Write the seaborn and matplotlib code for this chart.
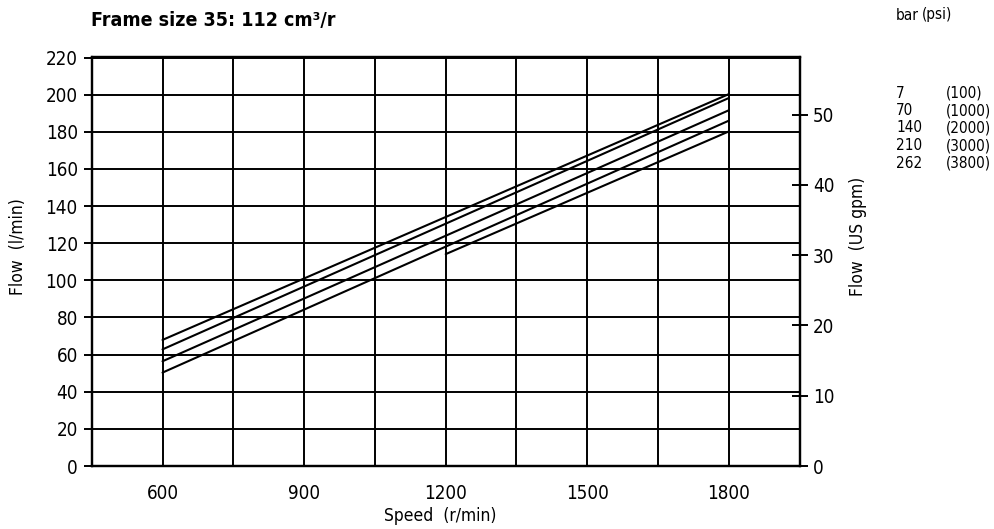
import matplotlib
matplotlib.use("Agg")
import matplotlib.pyplot as plt
import seaborn as sns
import pandas as pd

# ---- data ----
pressure_bar = ["7", "70", "140", "210", "262"]
pressure_psi = ["(100)", "(1000)", "(2000)", "(3000)", "(3800)"]
speed_7 = [600, 1800]
flow_7 = [67.9, 200.3]
speed_70 = [600, 1800]
flow_70 = [62.8, 198.2]
speed_140 = [600, 1800]
flow_140 = [56.4, 191.6]
speed_210 = [600, 1800]
flow_210 = [50.3, 186.0]
speed_262 = [1200, 1800]
flow_262 = [114.1, 180.2]
x_ticks = [600, 900, 1200, 1500, 1800]
y_ticks = [0, 20, 40, 60, 80, 100, 120, 140, 160, 180, 200, 220]
gpm_ticks = [0, 10, 20, 30, 40, 50]
LPM_PER_GPM = 3.785

speeds = [speed_7, speed_70, speed_140, speed_210, speed_262]
flows = [flow_7, flow_70, flow_140, flow_210, flow_262]
rows = []
for p, s, f in zip(pressure_bar, speeds, flows):
    for si, fi in zip(s, f):
        rows.append({"pressure": p, "speed": si, "flow": fi})
df = pd.DataFrame(rows)

sns.set_theme(style="white")
plt.rcParams["font.family"] = ["DejaVu Sans"]
plt.rcParams["font.stretch"] = "condensed"
plt.rcParams["text.color"] = "black"
plt.rcParams["axes.linewidth"] = 1.6

fig = plt.figure(figsize=(9.94, 5.29), dpi=100)
ax = fig.add_axes([91.7 / 994, 63 / 529, 708 / 994, 408.5 / 529])

sns.lineplot(data=df, x="speed", y="flow", hue="pressure", units="pressure",
             estimator=None, palette=["black"] * 5, legend=False,
             linewidth=1.5, ax=ax)

ax.set_xlim(450, 1950)
ax.set_ylim(0, 220)
xt = list(range(450, 1951, 150))
ax.set_xticks(xt)
ax.set_xticklabels([str(v) if v in x_ticks else "" for v in xt])
ax.set_yticks(y_ticks)
ax.set_yticklabels([str(v) for v in y_ticks])
ax.grid(True, color="black", linewidth=1.4)
for s in ax.spines.values():
    s.set_visible(True)
    s.set_color("black")
ax.tick_params(axis="both", direction="out", length=6, width=1.4,
               colors="black", labelsize=13.5, pad=4)
ax.tick_params(axis="x", pad=7)
ax.set_xlabel("")
ax.set_ylabel("")

ax2 = ax.twinx()
ax2.set_ylim(0, 220 / LPM_PER_GPM)
ax2.set_yticks(gpm_ticks)
ax2.set_yticklabels([str(v) for v in gpm_ticks])
ax2.tick_params(axis="y", direction="inout", length=11, width=1.4,
                colors="black", labelsize=13.5, pad=4)
ax2.grid(False)
for s in ax2.spines.values():
    s.set_color("black")

fig.text(18 / 994, 1 - 247 / 529, "Flow  (l/min)", rotation=90,
         ha="center", va="center", fontsize=12.5)
fig.text(858 / 994, 1 - 236 / 529, "Flow  (US gpm)", rotation=90,
         ha="center", va="center", fontsize=12.5)
fig.text(440 / 994, 1 - 516 / 529, "Speed  (r/min)",
         ha="center", va="center", fontsize=12.5)
fig.text(91 / 994, 1 - 20 / 529, "Frame size 35: 112 cm\u00b3/r",
         ha="left", va="center", fontsize=14, fontweight="bold")

fig.text(896 / 994, 1 - 15 / 529, "bar", ha="left", va="center", fontsize=11)
fig.text(922 / 994, 1 - 15 / 529, "(psi)", ha="left", va="center", fontsize=11)
row_y = [93, 110.5, 128, 145.5, 163]
for b, p, y in zip(pressure_bar, pressure_psi, row_y):
    fig.text(896 / 994, 1 - y / 529, b, ha="left", va="center", fontsize=11)
    fig.text(946 / 994, 1 - y / 529, p, ha="left", va="center", fontsize=11)

fig.savefig("out.png", dpi=100)
